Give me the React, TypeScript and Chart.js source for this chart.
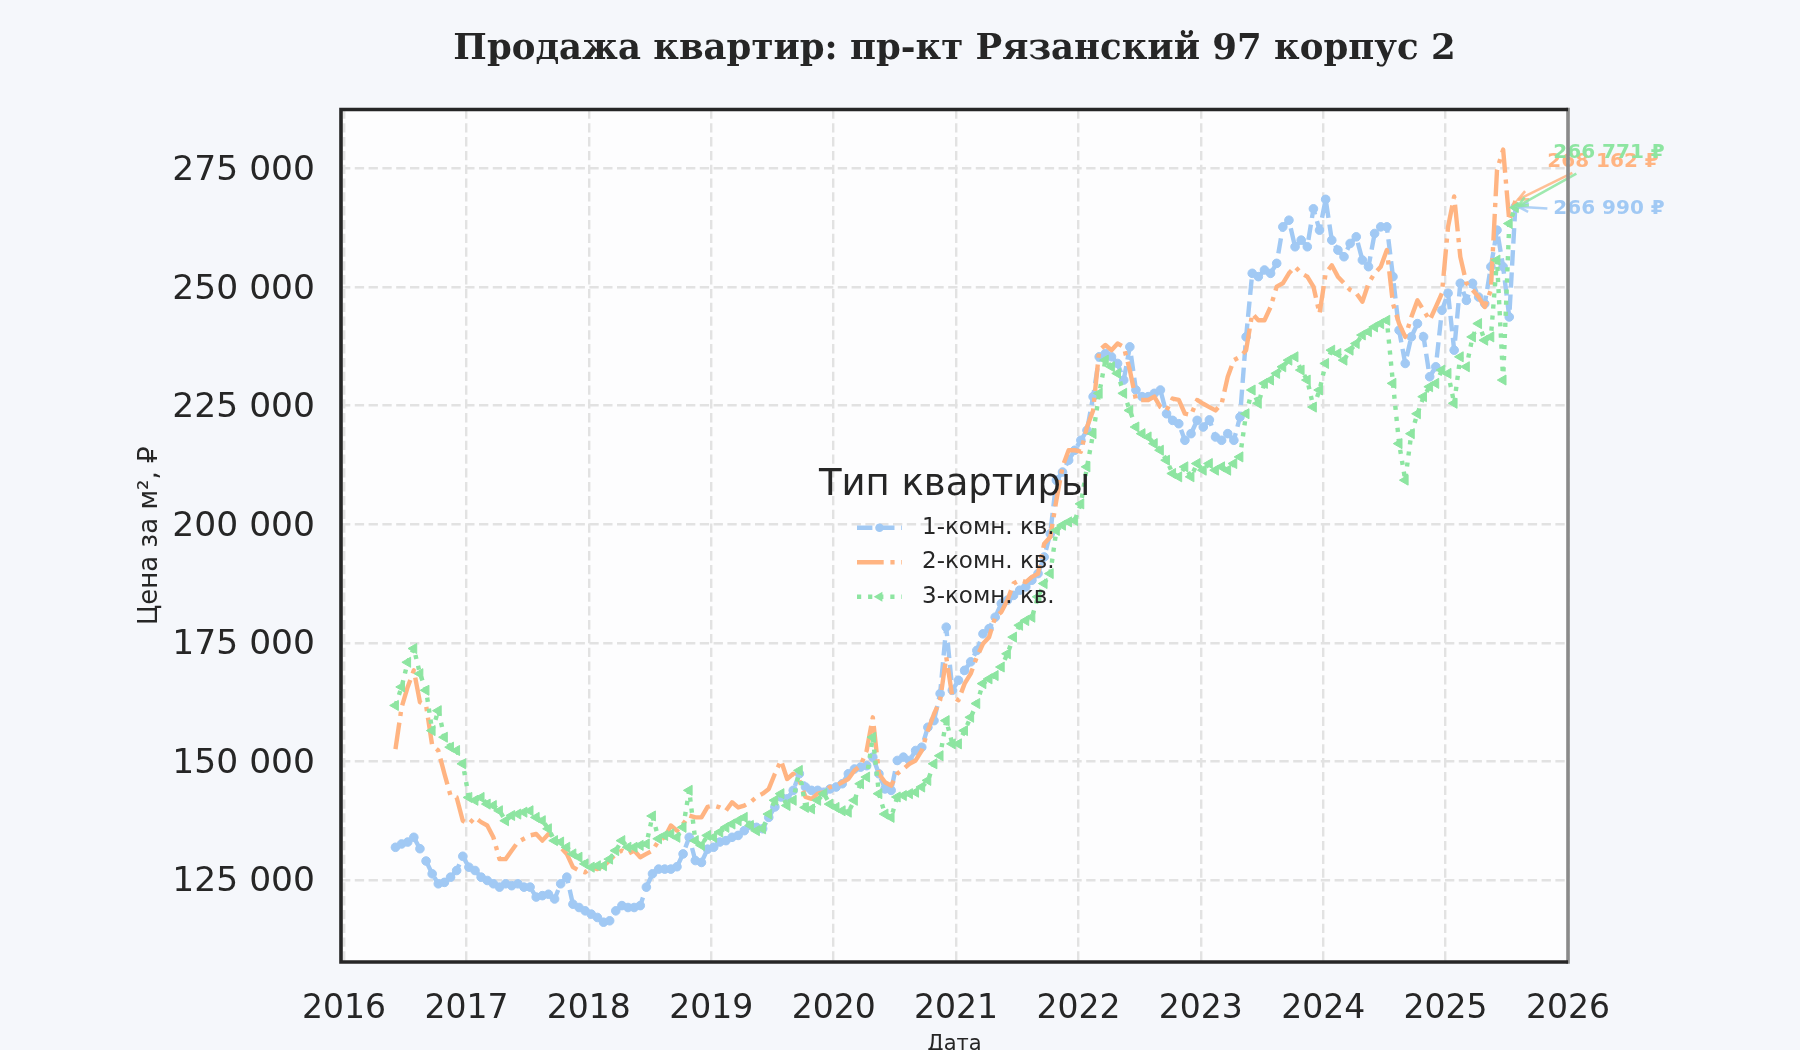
import React, { useEffect, useRef } from 'react';
import { Chart, registerables } from 'chart.js';

Chart.register(...registerables);

// ---------------- data ----------------
const TITLE = 'Продажа квартир: пр-кт Рязанский 97 корпус 2';
const X_LABEL = 'Дата';
const Y_LABEL = 'Цена за м², ₽';
const LEGEND_TITLE = 'Тип квартиры';
const SERIES_NAMES = ['1-комн. кв.', '2-комн. кв.', '3-комн. кв.'];

const X_TICKS = [2016, 2017, 2018, 2019, 2020, 2021, 2022, 2023, 2024, 2025, 2026];
const Y_TICKS = [125000, 150000, 175000, 200000, 225000, 250000, 275000];

// dates as decimal years
const DATES = [
  2016.42, 2016.47, 2016.52, 2016.57, 2016.62, 2016.67, 2016.72, 2016.77, 2016.82, 2016.87, 2016.92, 2016.97,
  2017.02, 2017.07, 2017.12, 2017.17, 2017.22, 2017.27, 2017.32, 2017.37, 2017.42, 2017.47, 2017.52, 2017.57, 2017.62, 2017.67, 2017.72, 2017.77, 2017.82, 2017.87, 2017.92, 2017.97,
  2018.02, 2018.07, 2018.12, 2018.17, 2018.22, 2018.27, 2018.32, 2018.37, 2018.42, 2018.47, 2018.52, 2018.57, 2018.62, 2018.67, 2018.72, 2018.77, 2018.82, 2018.87, 2018.92, 2018.97,
  2019.02, 2019.07, 2019.12, 2019.17, 2019.22, 2019.27, 2019.32, 2019.37, 2019.42, 2019.47, 2019.52, 2019.57, 2019.62, 2019.67, 2019.72, 2019.77, 2019.82, 2019.87, 2019.92, 2019.97,
  2020.02, 2020.07, 2020.12, 2020.17, 2020.22, 2020.27, 2020.32, 2020.37, 2020.42, 2020.47, 2020.52, 2020.57, 2020.62, 2020.67, 2020.72, 2020.77, 2020.82, 2020.87, 2020.92, 2020.97,
  2021.02, 2021.07, 2021.12, 2021.17, 2021.22, 2021.27, 2021.32, 2021.37, 2021.42, 2021.47, 2021.52, 2021.57, 2021.62, 2021.67, 2021.72, 2021.77, 2021.82, 2021.87, 2021.92, 2021.97,
  2022.02, 2022.07, 2022.12, 2022.17, 2022.22, 2022.27, 2022.32, 2022.37, 2022.42, 2022.47, 2022.52, 2022.57, 2022.62, 2022.67, 2022.72, 2022.77, 2022.82, 2022.87, 2022.92, 2022.97,
  2023.02, 2023.07, 2023.12, 2023.17, 2023.22, 2023.27, 2023.32, 2023.37, 2023.42, 2023.47, 2023.52, 2023.57, 2023.62, 2023.67, 2023.72, 2023.77, 2023.82, 2023.87, 2023.92, 2023.97,
  2024.02, 2024.07, 2024.12, 2024.17, 2024.22, 2024.27, 2024.32, 2024.37, 2024.42, 2024.47, 2024.52, 2024.57, 2024.62, 2024.67, 2024.72, 2024.77, 2024.82, 2024.87, 2024.92, 2024.97,
  2025.02, 2025.07, 2025.12, 2025.17, 2025.22, 2025.27, 2025.32, 2025.37, 2025.42, 2025.47, 2025.52, 2025.57,
];

const ONE_ROOM = [
  131900, 132600, 133000, 134000, 131600, 129000, 126300, 124200, 124500, 125600, 127000, 130000,
  127700, 127000, 125600, 124900, 124200, 123500, 124200, 123800, 124200, 123500, 123500, 121400, 121700, 122000, 121000, 124200, 125600, 119900, 119200, 118500,
  117800, 117100, 116100, 116400, 118500, 119600, 119200, 119200, 119600, 123500, 126300, 127300, 127300, 127300, 127800, 130500, 134000, 129100, 128700, 131500,
  131900, 133000, 133300, 134000, 134400, 135400, 136500, 136100, 135800, 138200, 140400, 142500, 142100, 143900, 147400, 144600, 143900, 143900, 143500, 144200,
  144600, 145300, 147400, 148400, 148800, 149100, 150900, 147400, 144200, 143900, 150200, 150900, 150200, 152300, 153000, 157200, 158600, 164300, 178300, 165000,
  167100, 169200, 171000, 173400, 176900, 178000, 180400, 183300, 184000, 185000, 186100, 186800, 188200, 189600, 193100, 198000, 209300, 211000, 213500, 215600,
  217700, 219800, 226900, 235300, 236000, 235300, 233900, 230400, 237400, 228300, 226900, 226900, 227600, 228300, 223300, 221900, 221200, 217700, 219100, 221900,
  220500, 222000, 218400, 217700, 219100, 217700, 222600, 239500, 252900, 252200, 253600, 252900, 255000, 262700, 264100, 258500, 259900, 258500, 266500, 262000,
  268500, 259900, 257800, 256400, 259200, 260600, 255700, 254300, 261300, 262700, 262700, 252200, 240900, 233900, 239500, 242300, 239500, 231100, 233200, 245100,
  248700, 236700, 250800, 247200, 250800, 247900, 246500, 254300, 262000, 254300, 243700, 266990,
];

const TWO_ROOM = [
  152600, 161400, 165700, 169200, 162500, 161800, 153400, 152300, 147400, 142800, 142400, 137500,
  136800, 138200, 137200, 136500, 134000, 129400, 129400, 131200, 133000, 133700, 134400, 134700, 133300, 134700, 134000, 131900, 130500, 127700, 127000, 126600,
  127700, 127300, 128000, 129100, 130500, 131200, 130500, 131200, 129800, 130500, 131200, 133300, 134000, 136500, 135400, 136800, 138600, 138200, 138200, 140400,
  140700, 140300, 139600, 141400, 140300, 140700, 141400, 142500, 143200, 144200, 147400, 150200, 146300, 147400, 146000, 142500, 142100, 143200, 143500, 144600,
  144900, 145600, 146300, 148100, 149100, 152300, 159300, 147400, 145600, 144900, 147400, 148400, 149500, 150200, 152300, 156500, 160000, 162900, 172000, 163600,
  162900, 166400, 168500, 172000, 174800, 176200, 180400, 181500, 184000, 187500, 188200, 187800, 188900, 189600, 195900, 197300, 205100, 212100, 215600, 215600,
  215300, 220500, 224000, 236700, 237800, 236700, 238100, 237400, 232500, 226200, 226200, 226200, 226900, 224700, 224000, 226500, 226200, 223300, 223000, 226200,
  225400, 224700, 224000, 225400, 231100, 234600, 235300, 236700, 244400, 243000, 243000, 245800, 250100, 250800, 252900, 254300, 252900, 252200, 250100, 244400,
  252900, 254600, 252200, 250800, 249400, 248700, 246900, 250800, 252900, 254300, 257800, 246500, 242300, 239500, 243700, 247200, 245100, 243000, 245800, 248700,
  262700, 269100, 256400, 250800, 249400, 247900, 245800, 249400, 274700, 279000, 264000, 268162,
];

const THREE_ROOM = [
  161800, 165700, 170900, 173800, 168500, 165000, 156500, 160700, 155100, 153000, 152300, 149500,
  142400, 141800, 142400, 141000, 140700, 139600, 137500, 138600, 138900, 139300, 139600, 138200, 137500, 135800, 133300, 133000, 131900, 130500, 129800, 128400,
  127700, 128000, 128000, 129400, 131200, 133300, 131900, 131900, 132300, 132600, 138500, 133700, 134400, 134700, 134000, 136100, 143900, 133300, 132300, 134400,
  134000, 135100, 136100, 136800, 137500, 138200, 136500, 135400, 135800, 138900, 141800, 143200, 140700, 141800, 148100, 140300, 140000, 141800, 143200, 141000,
  140300, 139600, 139300, 141800, 145300, 146700, 155100, 143200, 138900, 138200, 142500, 142800, 143200, 143500, 144600, 146000, 149500, 151200, 158600, 153700,
  153700, 156500, 159300, 162200, 166400, 167400, 168100, 169900, 172700, 176200, 178700, 179700, 180400, 184700, 187500, 189600, 198700, 199800, 200500, 200800,
  204300, 212100, 219100, 227600, 234600, 233200, 231800, 227600, 224000, 220500, 219100, 218400, 217000, 215600, 213500, 210700, 210000, 212100, 210000, 212800,
  211400, 212800, 211400, 212100, 211400, 212800, 214200, 223300, 228300, 225500, 229700, 230400, 231800, 233200, 234600, 235300, 232500, 230400, 224700, 228300,
  233900, 236700, 236000, 234600, 236700, 238100, 239900, 240600, 241600, 242300, 243000, 229700, 217000, 209300, 219100, 223300, 226900, 229000, 229700, 232500,
  231800, 225500, 235300, 233200, 239500, 242300, 238800, 239500, 255700, 230400, 263400, 266771,
];

// ---------------- styles ----------------
const FONT = "'DejaVu Sans', 'Noto Sans', sans-serif";
const SERIF = "'DejaVu Serif', 'Liberation Serif', serif";
const TEXT = '#262626';
const FIG_BG = '#f5f7fb';
const AX_BG = '#fdfdfe';
const GRID = '#e2e2e2';
const COLORS = ['#a1c9f4', '#ffb482', '#8de5a1'];
const LINE_W = 4.4;
const DASHES = [[15.4, 6.7], [26.7, 6.7, 4.2, 6.7], [4.2, 6.9]];
const POINT_STYLES = ['circle', 'circle', 'triangle'];
const POINT_RADII = [4.3, 0, 5.8];
const POINT_ROT = [0, 0, -90];
// annotation text / arrow-start offsets relative to the last point (px)
const ANNOT = [
  { tx: 38, ty: 2.5, ax: 32, ay: 2 },
  { tx: 32, ty: -39, ax: 57, ay: -28 },
  { tx: 38, ty: -54.5, ax: 61, ay: -34 },
];

function fmt(v: number): string {
  return String(Math.round(v)).replace(/\B(?=(\d{3})+(?!\d))/g, ' ');
}

function drawMarker(ctx: CanvasRenderingContext2D, i: number, x: number, y: number) {
  const r = POINT_RADII[i];
  if (!r) return;
  ctx.fillStyle = COLORS[i];
  ctx.beginPath();
  if (POINT_STYLES[i] === 'circle') {
    ctx.arc(x, y, r, 0, Math.PI * 2);
  } else {
    ctx.moveTo(x - r, y);
    ctx.lineTo(x + r / 2, y - r * 0.866);
    ctx.lineTo(x + r / 2, y + r * 0.866);
    ctx.closePath();
  }
  ctx.fill();
}

function drawArrow(ctx: CanvasRenderingContext2D, x0: number, y0: number, x1: number, y1: number, color: string) {
  const ang = Math.atan2(y1 - y0, x1 - x0);
  const ex = x1 - Math.cos(ang) * 3;
  const ey = y1 - Math.sin(ang) * 3;
  ctx.save();
  ctx.strokeStyle = color;
  ctx.globalAlpha = 0.85;
  ctx.lineWidth = 2.6;
  ctx.setLineDash([]);
  ctx.beginPath();
  ctx.moveTo(x0, y0);
  ctx.lineTo(ex, ey);
  ctx.stroke();
  const hl = 11;
  const hw = 0.42;
  ctx.beginPath();
  ctx.moveTo(ex - hl * Math.cos(ang - hw), ey - hl * Math.sin(ang - hw));
  ctx.lineTo(ex, ey);
  ctx.lineTo(ex - hl * Math.cos(ang + hw), ey - hl * Math.sin(ang + hw));
  ctx.stroke();
  ctx.restore();
}

const decorPlugin = {
  id: 'decor',
  beforeDraw(chart: any) {
    const { ctx, chartArea: a, width, height } = chart;
    ctx.save();
    ctx.fillStyle = FIG_BG;
    ctx.fillRect(0, 0, width, height);
    ctx.fillStyle = AX_BG;
    ctx.fillRect(a.left, a.top, a.right - a.left, a.bottom - a.top);
    ctx.fillStyle = TEXT;
    ctx.font = `bold 35.5px ${SERIF}`;
    ctx.textAlign = 'center';
    ctx.textBaseline = 'middle';
    ctx.fillText(TITLE, (a.left + a.right) / 2, 50);
    ctx.restore();
  },
  afterDatasetsDraw(chart: any) {
    const { ctx, chartArea: a } = chart;
    const cx = (a.left + a.right) / 2;
    const cy = (a.top + a.bottom) / 2 + 4;
    ctx.save();
    // legend
    ctx.fillStyle = TEXT;
    ctx.font = `37px ${FONT}`;
    ctx.textAlign = 'center';
    ctx.textBaseline = 'middle';
    ctx.fillText(LEGEND_TITLE, cx, cy - 54);
    SERIES_NAMES.forEach((name, i) => {
      const y = cy - 12 + i * 34.5;
      ctx.strokeStyle = COLORS[i];
      ctx.lineWidth = LINE_W;
      ctx.setLineDash(DASHES[i]);
      ctx.lineCap = 'butt';
      ctx.beginPath();
      ctx.moveTo(cx - 97.5, y);
      ctx.lineTo(cx - 52.5, y);
      ctx.stroke();
      ctx.setLineDash([]);
      drawMarker(ctx, i, cx - 75, y);
      ctx.fillStyle = TEXT;
      ctx.font = `23px ${FONT}`;
      ctx.textAlign = 'left';
      ctx.fillText(name, cx - 32.5, y);
    });
    // end-value annotations
    const vals = [ONE_ROOM, TWO_ROOM, THREE_ROOM];
    vals.forEach((arr, i) => {
      const meta = chart.getDatasetMeta(i);
      const el = meta.data[meta.data.length - 1];
      const o = ANNOT[i];
      drawArrow(ctx, el.x + o.ax, el.y + o.ay, el.x, el.y, COLORS[i]);
      ctx.fillStyle = COLORS[i];
      ctx.font = `bold 20px ${FONT}`;
      ctx.textAlign = 'left';
      ctx.textBaseline = 'middle';
      ctx.fillText(fmt(arr[arr.length - 1]) + ' ₽', el.x + o.tx, el.y + o.ty);
    });
    ctx.restore();
  },
  afterDraw(chart: any) {
    const { ctx, chartArea: a } = chart;
    ctx.save();
    ctx.lineWidth = 3.6;
    ctx.setLineDash([]);
    ctx.strokeStyle = '#8a8a8a';
    ctx.beginPath();
    ctx.moveTo(a.right, a.top - 1.8);
    ctx.lineTo(a.right, a.bottom + 1.8);
    ctx.stroke();
    ctx.strokeStyle = '#262626';
    ctx.beginPath();
    ctx.moveTo(a.right, a.top);
    ctx.lineTo(a.left, a.top);
    ctx.lineTo(a.left, a.bottom);
    ctx.lineTo(a.right, a.bottom);
    ctx.stroke();
    ctx.restore();
  },
};

export default function App() {
  const ref = useRef<HTMLCanvasElement>(null);

  useEffect(() => {
    if (!ref.current) return;
    const values = [ONE_ROOM, TWO_ROOM, THREE_ROOM];
    const datasets = SERIES_NAMES.map((name, i) => ({
      label: name,
      data: DATES.map((d, k) => ({ x: d, y: values[i][k] })),
      borderColor: COLORS[i],
      backgroundColor: COLORS[i],
      borderWidth: LINE_W,
      borderDash: DASHES[i],
      borderCapStyle: 'butt',
      borderJoinStyle: 'round',
      pointStyle: POINT_STYLES[i],
      pointRadius: POINT_RADII[i],
      pointRotation: POINT_ROT[i],
      pointBorderWidth: 1,
      pointBorderColor: COLORS[i],
      pointBackgroundColor: COLORS[i],
      tension: 0,
      fill: false,
      order: 3 - i,
    }));

    const chart = new Chart(ref.current, {
      type: 'line',
      data: { datasets } as any,
      plugins: [decorPlugin],
      options: {
        animation: false,
        responsive: true,
        maintainAspectRatio: false,
        events: [],
        layout: { padding: { top: 109.5, right: 232, bottom: 0, left: 0 } },
        plugins: {
          legend: { display: false },
          tooltip: { enabled: false },
          title: { display: false },
        },
        scales: {
          x: {
            type: 'linear',
            position: 'bottom',
            min: 2015.975,
            max: 2026,
            afterBuildTicks: (s: any) => {
              s.ticks = X_TICKS.map((v) => ({ value: v }));
            },
            afterFit: (s: any) => {
              s.height = 88;
            },
            ticks: {
              autoSkip: false,
              maxRotation: 0,
              padding: 30.5,
              color: TEXT,
              font: { family: FONT, size: 33, lineHeight: 1 },
              callback: (v: any) => String(v),
            },
            grid: { color: GRID, lineWidth: 2.4, drawTicks: false },
            border: { display: false, dash: [9.3, 4.5] },
            title: {
              display: true,
              text: X_LABEL,
              color: TEXT,
              font: { family: FONT, size: 21, lineHeight: 0.55 },
              padding: { top: 0, bottom: 0 },
            },
          },
          y: {
            type: 'linear',
            position: 'left',
            min: 107712,
            max: 287439,
            afterBuildTicks: (s: any) => {
              s.ticks = Y_TICKS.map((v) => ({ value: v }));
            },
            afterFit: (s: any) => {
              s.width = 341;
            },
            ticks: {
              autoSkip: false,
              padding: 26,
              labelOffset: 2.5,
              color: TEXT,
              font: { family: FONT, size: 34.5, lineHeight: 1 },
              callback: (v: any) => fmt(Number(v)),
            },
            grid: { color: GRID, lineWidth: 2.4, drawTicks: false },
            border: { display: false, dash: [9.3, 4.5] },
            title: {
              display: true,
              text: Y_LABEL,
              color: TEXT,
              font: { family: FONT, size: 26, lineHeight: 1.2 },
              padding: { top: 134.5, bottom: 0 },
            },
          },
        },
      } as any,
    });
    return () => chart.destroy();
  }, []);

  return (
    <div style={{ position: 'absolute', left: 0, top: 0, width: 1800, height: 1050, background: FIG_BG }}>
      <canvas ref={ref} />
    </div>
  );
}
